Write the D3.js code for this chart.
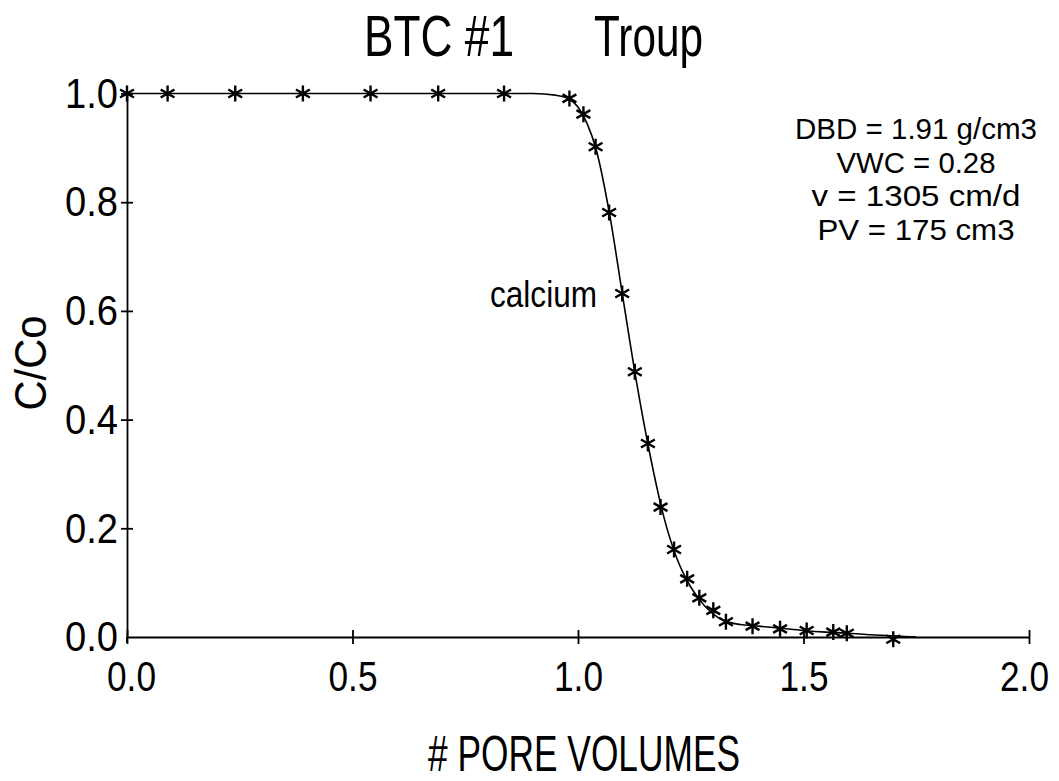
<!DOCTYPE html>
<html lang="en">

<head>
    <script src="https://d3js.org/d3.v7.min.js"></script>
    <meta charset="utf-8" />
    <style>
        body { margin: 0; background: #fff; }
        text { font-family: "Liberation Sans", Arial, sans-serif; fill: #000; }
    </style>
</head>

<body>
    <script>

        const w = 1059;
        const h = 781;

        // measured breakthrough points (pore volumes, C/Co)
        const pvObs = [0, 0.09, 0.24, 0.39, 0.54, 0.69, 0.836, 0.981, 1.012, 1.039, 1.069, 1.098, 1.126,
            1.155, 1.183, 1.213, 1.242, 1.269, 1.300, 1.328, 1.387, 1.448, 1.507, 1.566, 1.596, 1.699];
        const ccoObs = [1, 1, 1, 1, 1, 1, 1, 0.991, 0.962, 0.902, 0.781, 0.632, 0.488,
            0.356, 0.239, 0.161, 0.107, 0.072, 0.049, 0.028, 0.020, 0.015, 0.012, 0.009, 0.007, -0.004];

        // fitted curve
        const pvFit = [0, 0.90, 0.95, 0.98, 1.00, 1.02, 1.04, 1.07, 1.10, 1.13, 1.16, 1.19, 1.22,
            1.25, 1.28, 1.31, 1.34, 1.37, 1.40, 1.45, 1.50, 1.55, 1.60, 1.65, 1.70, 1.75];
        const ccoFit = [1, 1, 0.997, 0.99, 0.975, 0.945, 0.898, 0.778, 0.622, 0.468, 0.334, 0.222, 0.143,
            0.092, 0.058, 0.036, 0.026, 0.022, 0.020, 0.016, 0.012, 0.009, 0.007, 0.004, 0.002, 0];

        const xTicks = [0, 0.5, 1.0, 1.5, 2.0];
        const yTicks = [0, 0.2, 0.4, 0.6, 0.8, 1.0];

        const titleLeft = "BTC #1";
        const titleRight = "Troup";
        const xLabel = "# PORE VOLUMES";
        const yLabel = "C/Co";
        const seriesLabel = "calcium";
        const notes = ["DBD = 1.91 g/cm3", "VWC = 0.28", "v = 1305 cm/d", "PV = 175 cm3"];

        const xScale = d3.scaleLinear().domain([0, 2]).range([127, 1029]);
        const yScale = d3.scaleLinear().domain([0, 1]).range([637, 93.5]);

        const svg = d3.select("body")
            .append("svg")
            .attr("width", w)
            .attr("height", h);

        // squeeze text horizontally like the plotter font
        function fit(sel, len) {
            return sel.attr("textLength", len).attr("lengthAdjust", "spacingAndGlyphs");
        }

        // axes
        const xAxis = d3.axisBottom(xScale).tickValues(xTicks).tickFormat(d3.format(".1f"))
            .tickSize(7).tickSizeOuter(0).tickPadding(17);
        const yAxis = d3.axisLeft(yScale).tickValues(yTicks).tickFormat(d3.format(".1f"))
            .tickSize(6).tickSizeOuter(0).tickPadding(3);

        const gx = svg.append("g")
            .attr("transform", "translate(0," + yScale(0) + ")")
            .call(xAxis);
        gx.selectAll(".tick line").attr("y1", -7).attr("stroke-width", 1.8);
        gx.select(".domain").attr("stroke-width", 1.8);
        gx.selectAll(".tick text").style("font-size", "42px").call(fit, 49);
        gx.selectAll(".tick").filter(d => d === 0).select("text").attr("dx", 4);
        gx.selectAll(".tick").filter(d => d === 2).select("text").attr("dx", -5);

        const gy = svg.append("g")
            .attr("transform", "translate(" + xScale(0) + ",0)")
            .call(yAxis);
        gy.selectAll(".tick line").attr("x1", 6).attr("stroke-width", 1.8);
        gy.select(".domain").attr("stroke-width", 1.8);
        gy.selectAll(".tick text").style("font-size", "43px").call(fit, 53);
        gy.selectAll(".tick").filter(d => d === 0).select("line").attr("y1", 6).attr("y2", 6).attr("x1", 0).attr("x2", 0);
        gy.append("line").attr("x1", 0).attr("x2", 0).attr("y1", yScale(0)).attr("y2", yScale(0) + 6)
            .attr("stroke", "#000").attr("stroke-width", 1.8);

        // fitted curve
        const line = d3.line()
            .x(d => xScale(d[0]))
            .y(d => yScale(d[1]))
            .curve(d3.curveMonotoneX);

        svg.append("path")
            .datum(d3.zip(pvFit, ccoFit))
            .attr("fill", "none")
            .attr("stroke", "#000")
            .attr("stroke-width", 1.6)
            .attr("d", line);

        // asterisk markers
        const r = 8;
        const star = [90, 30, 150].map(a => {
            const c = Math.cos(a * Math.PI / 180) * r, s = Math.sin(a * Math.PI / 180) * r;
            return `M${-c},${-s}L${c},${s}`;
        }).join("");

        svg.selectAll("path.pt")
            .data(d3.zip(pvObs, ccoObs))
            .enter()
            .append("path")
            .attr("class", "pt")
            .attr("transform", d => `translate(${xScale(d[0])},${yScale(d[1])})`)
            .attr("d", star)
            .attr("stroke", "#000")
            .attr("stroke-width", 2.4)
            .attr("fill", "none");

        // title
        svg.append("text").attr("x", 364).attr("y", 56).style("font-size", "58px")
            .text(titleLeft).call(fit, 150);
        svg.append("text").attr("x", 594).attr("y", 56).style("font-size", "58px")
            .text(titleRight).call(fit, 109);

        // axis labels
        svg.append("text").attr("x", 584).attr("y", 771).attr("text-anchor", "middle")
            .style("font-size", "50px").text(xLabel).call(fit, 312);

        svg.append("text").attr("transform", "translate(46,363) rotate(-90)")
            .attr("text-anchor", "middle").style("font-size", "44px")
            .text(yLabel).call(fit, 95);

        svg.append("text").attr("x", 490).attr("y", 307).style("font-size", "36px")
            .text(seriesLabel).call(fit, 107);

        // parameter notes
        const noteLen = [242, 159, 209, 197];
        svg.selectAll("text.note")
            .data(notes)
            .enter()
            .append("text")
            .attr("class", "note")
            .attr("x", 916)
            .attr("y", (d, i) => 139 + i * 33.7)
            .attr("text-anchor", "middle")
            .style("font-size", "30px")
            .text(d => d)
            .each(function (d, i) { fit(d3.select(this), noteLen[i]); });

    </script>
</body>

</html>
